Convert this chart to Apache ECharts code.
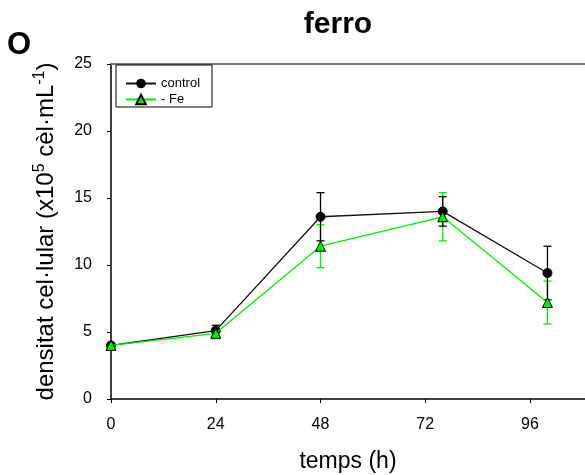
<!DOCTYPE html>
<html>
<head>
<meta charset="utf-8">
<script src="https://cdn.jsdelivr.net/npm/echarts@6/dist/echarts.min.js"></script>
<style>html,body{margin:0;padding:0;background:#fff}#c{width:585px;height:475px}</style>
</head>
<body>
<div id="c"></div>
<script>
const times = [0, 24, 48, 76, 100];
const controlMean = [4.0, 5.1, 13.6, 14.0, 9.4];
const controlErr = [0.1, 0.4, 1.8, 1.1, 2.0];
const feMean = [4.0, 4.9, 11.4, 13.6, 7.2];
const feErr = [0.1, 0.4, 1.6, 1.8, 1.6];
const xTicks = [0, 24, 48, 72, 96];
const yTicks = [0, 5, 10, 15, 20, 25];

const FONT = 'Liberation Sans, Arial, sans-serif';
const GREEN = '#00ee00';

function pts(m) { return times.map((t, i) => [t, m[i]]); }
function errData(m, e) { return times.map((t, i) => [t, m[i] - e[i], m[i] + e[i]]); }
function errSeries(m, e, color) {
  return {
    type: 'custom', silent: true, z: 1,
    data: errData(m, e),
    encode: { x: 0, y: [1, 2] },
    renderItem: function (params, api) {
      const lo = api.coord([api.value(0), api.value(1)]);
      const hi = api.coord([api.value(0), api.value(2)]);
      const w = 4;
      const st = { stroke: color, lineWidth: 1.3 };
      return { type: 'group', children: [
        { type: 'line', shape: { x1: lo[0], y1: lo[1], x2: hi[0], y2: hi[1] }, style: st },
        { type: 'line', shape: { x1: lo[0] - w, y1: lo[1], x2: lo[0] + w, y2: lo[1] }, style: st },
        { type: 'line', shape: { x1: hi[0] - w, y1: hi[1], x2: hi[0] + w, y2: hi[1] }, style: st }
      ]};
    }
  };
}

const chart = echarts.init(document.getElementById('c'), null, { renderer: 'canvas' });
chart.setOption({
  animation: false,
  backgroundColor: '#fff',
  textStyle: { fontFamily: FONT },
  title: {
    text: 'ferro', left: 333, top: 5, textAlign: 'center',
    textStyle: { fontFamily: FONT, fontSize: 30, fontWeight: 'bold', color: '#000' }
  },
  graphic: [{
    type: 'text', left: 7, top: 30,
    style: { text: 'O', fontFamily: FONT, fontSize: 31, fontWeight: 'bold', fill: '#000' }
  }],
  legend: {
    orient: 'vertical', left: 116, top: 65,
    padding: [12, 12, 1, 9], itemGap: 3, itemWidth: 30, itemHeight: 12,
    borderColor: '#000', borderWidth: 1,
    textStyle: { fontFamily: FONT, fontSize: 13, color: '#000' },
    data: ['control', '- Fe']
  },
  grid: { left: 111, top: 64, right: 0, bottom: 76, containLabel: false, outerBoundsMode: 'none' },
  xAxis: [{
    type: 'value', min: 0, max: 108.6,
    name: 'temps (h)', nameLocation: 'middle', nameGap: 51,
    nameTextStyle: { fontFamily: FONT, fontSize: 23, color: '#000' },
    axisLine: { lineStyle: { color: '#000', width: 1.5 } },
    axisTick: { inside: false, length: 4, lineStyle: { color: '#000' }, customValues: xTicks },
    axisLabel: { fontFamily: FONT, fontSize: 16, color: '#000', margin: 18, customValues: xTicks },
    splitLine: { show: false }
  }, {
    type: 'value', position: 'top', min: 0, max: 108.6,
    axisLine: { show: true, lineStyle: { color: '#777', width: 2 } },
    axisTick: { show: false }, axisLabel: { show: false }, splitLine: { show: false }
  }],
  yAxis: {
    type: 'value', min: 0, max: 25, interval: 5,
    name: '{n|densitat cel·lular (x10}{s|5}{n| cèl·mL}{s|-1}{n|)}',
    nameLocation: 'middle', nameRotate: 90, nameGap: 50,
    nameTextStyle: {
      rich: {
        n: { fontFamily: FONT, fontSize: 24, color: '#000' },
        s: { fontFamily: FONT, fontSize: 16, color: '#000', verticalAlign: 'bottom', padding: [0, 0, 13, 0] }
      }
    },
    axisLine: { show: true, lineStyle: { color: '#000', width: 1.5 } },
    axisTick: { show: true, inside: false, length: 4, lineStyle: { color: '#000' }, customValues: yTicks },
    axisLabel: { fontFamily: FONT, fontSize: 16, color: '#000', margin: 19, customValues: yTicks },
    splitLine: { show: false }
  },
  series: [
    errSeries(feMean, feErr, GREEN),
    errSeries(controlMean, controlErr, '#000'),
    {
      name: 'control', type: 'line', data: pts(controlMean), z: 3,
      symbol: 'circle', symbolSize: 9,
      lineStyle: { color: '#111', width: 1.3 },
      itemStyle: { color: '#000', borderColor: '#000' }
    },
    {
      name: '- Fe', type: 'line', data: pts(feMean), z: 4,
      symbol: 'triangle', symbolSize: 10,
      lineStyle: { color: GREEN, width: 1.3 },
      itemStyle: { color: GREEN, borderColor: '#000', borderWidth: 1 }
    }
  ]
});
</script>
</body>
</html>
